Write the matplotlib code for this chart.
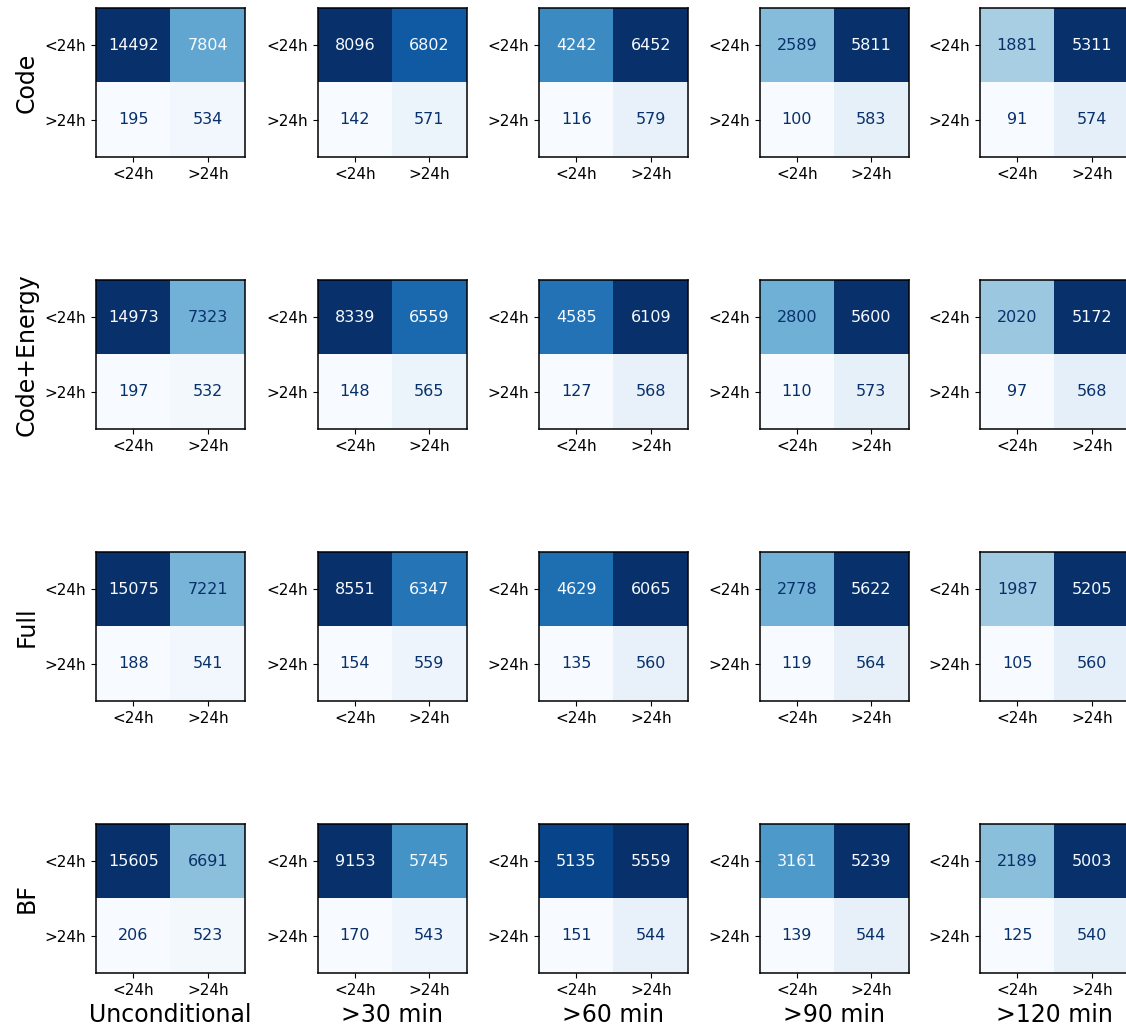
import numpy as np
import matplotlib
matplotlib.use("Agg")
import matplotlib.pyplot as plt

models = ["Code", "Code+Energy", "Full", "BF"]
conditions = ["Unconditional", ">30 min", ">60 min", ">90 min", ">120 min"]
classes = ["<24h", ">24h"]

# confusion matrices, one per condition: [[TT, TF], [FT, FF]]
code = [
    [[14492, 7804], [195, 534]],
    [[8096, 6802], [142, 571]],
    [[4242, 6452], [116, 579]],
    [[2589, 5811], [100, 583]],
    [[1881, 5311], [91, 574]],
]
code_energy = [
    [[14973, 7323], [197, 532]],
    [[8339, 6559], [148, 565]],
    [[4585, 6109], [127, 568]],
    [[2800, 5600], [110, 573]],
    [[2020, 5172], [97, 568]],
]
full = [
    [[15075, 7221], [188, 541]],
    [[8551, 6347], [154, 559]],
    [[4629, 6065], [135, 560]],
    [[2778, 5622], [119, 564]],
    [[1987, 5205], [105, 560]],
]
bf = [
    [[15605, 6691], [206, 523]],
    [[9153, 5745], [170, 543]],
    [[5135, 5559], [151, 544]],
    [[3161, 5239], [139, 544]],
    [[2189, 5003], [125, 540]],
]
results = [code, code_energy, full, bf]

W, H = 1126, 1032
fig = plt.figure(figsize=(W / 100, H / 100), dpi=100)
cmap = plt.get_cmap("Blues")

lefts = [96, 317.5, 539, 759.5, 980]
tops = [8, 280, 552, 824]
size = 149

for r, model in enumerate(models):
    for c, cond in enumerate(conditions):
        ax = fig.add_axes([lefts[c] / W, (H - tops[r] - size) / H, size / W, size / H])
        cm = np.array(results[r][c])
        ax.imshow(cm, cmap=cmap, interpolation="nearest")
        # light text on dark cells, dark text on light cells
        thresh = (cm.max() + cm.min()) / 2.0
        for i in range(2):
            for j in range(2):
                color = cmap(0.0) if cm[i, j] >= thresh else cmap(1.0)
                ax.text(j, i, str(cm[i, j]), ha="center", va="center",
                        color=color, fontsize=11.5)
        ax.set_xticks([0, 1])
        ax.set_yticks([0, 1])
        ax.set_xticklabels(classes, fontsize=11)
        ax.set_yticklabels(classes, fontsize=11)
        for s in ax.spines.values():
            s.set_linewidth(1.1)
        if c == 0:
            ax.set_ylabel(model, fontsize=17)
        if r == len(models) - 1:
            ax.set_xlabel(cond, fontsize=17)

fig.savefig("out.png", dpi=100)
